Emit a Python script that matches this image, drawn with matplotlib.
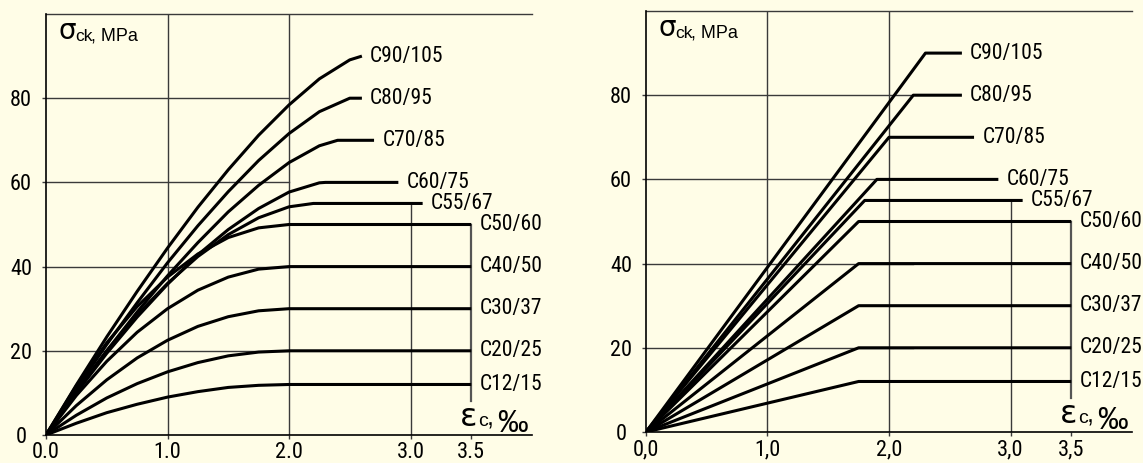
import matplotlib
matplotlib.use("Agg")
import matplotlib.pyplot as plt
from matplotlib import font_manager
from matplotlib.font_manager import FontProperties

BG = '#FFFDE7'

grades = ['C12/15', 'C20/25', 'C30/37', 'C40/50', 'C50/60',
          'C55/67', 'C60/75', 'C70/85', 'C80/95', 'C90/105']
fck = [12, 20, 30, 40, 50, 55, 60, 70, 80, 90]

# left chart: parabola-rectangle, stress read at these strains (per mille)
eps_grid = [0.0, 0.25, 0.5, 0.75, 1.0, 1.25, 1.5, 1.75, 2.0, 2.25, 2.5]
sig_c12 = [0, 2.8, 5.3, 7.3, 9.0, 10.3, 11.3, 11.8]
sig_c20 = [0, 4.7, 8.8, 12.2, 15.0, 17.2, 18.8, 19.7]
sig_c30 = [0, 7.0, 13.1, 18.3, 22.5, 25.8, 28.1, 29.5]
sig_c40 = [0, 9.4, 17.5, 24.4, 30.0, 34.4, 37.5, 39.4]
sig_c50 = [0, 11.7, 21.9, 30.5, 37.5, 43.0, 46.9, 49.2]
sig_c55 = [0, 10.5, 20.0, 28.5, 36.0, 42.4, 47.6, 51.6, 54.2]
sig_c60 = [0, 10.0, 19.4, 28.0, 35.8, 42.8, 48.8, 53.8, 57.7, 59.9]
sig_c70 = [0, 10.3, 20.0, 29.2, 37.8, 45.7, 53.0, 59.3, 64.7, 68.7]
sig_c80 = [0, 11.0, 21.5, 31.4, 40.9, 49.7, 57.8, 65.2, 71.6, 76.8]
sig_c90 = [0, 11.9, 23.3, 34.1, 44.4, 54.1, 63.0, 71.2, 78.4, 84.6, 89.1]
sig_left = [sig_c12, sig_c20, sig_c30, sig_c40, sig_c50,
            sig_c55, sig_c60, sig_c70, sig_c80, sig_c90]
eps_c2 = [2.0, 2.0, 2.0, 2.0, 2.0, 2.2, 2.3, 2.4, 2.5, 2.6]
eps_cu2 = [3.5, 3.5, 3.5, 3.5, 3.5, 3.1, 2.9, 2.7, 2.6, 2.6]

# right chart: bilinear
eps_c3 = [1.75, 1.75, 1.75, 1.75, 1.75, 1.8, 1.9, 2.0, 2.2, 2.3]
eps_cu3 = [3.5, 3.5, 3.5, 3.5, 3.5, 3.1, 2.9, 2.7, 2.6, 2.6]

xticks = [0, 1, 2, 3, 3.5]
xlabels_left = ['0.0', '1.0', '2.0', '3.0', '3.5']
xlabels_right = ['0,0', '1,0', '2,0', '3,0', '3,5']
yticks = [0, 20, 40, 60, 80]


# the original uses a narrow Arial-like face; take one if there is any
def narrow_font(size):
    have = font_manager.fontManager.ttflist
    names = {f.name for f in have}
    for n in ['Liberation Sans Narrow', 'Arial Narrow', 'Roboto Condensed',
              'Open Sans Condensed', 'Noto Sans Condensed']:
        if n in names:
            return FontProperties(family=n, size=size)
    if any(f.name == 'DejaVu Sans' and f.stretch == 'condensed' for f in have):
        return FontProperties(family='DejaVu Sans', stretch='condensed', size=size - 1)
    return FontProperties(family='Liberation Sans', size=size - 2.3)


LBL = narrow_font(15.5)
TCK = narrow_font(16)
plt.rcParams['font.family'] = ['Liberation Sans', 'DejaVu Sans']


def setup(ax, xlabels, hgrid_end):
    ax.set_facecolor(BG)
    ax.set_xlim(0, 4)
    ax.set_ylim(0, 100)
    for s in ['top', 'right']:
        ax.spines[s].set_visible(False)
    for s in ['left', 'bottom']:
        ax.spines[s].set_color('black')
        ax.spines[s].set_linewidth(1.2)
    gc = '#3a3a3a'
    ax.plot([0, 4], [100, 100], color=gc, lw=1.0, clip_on=False)
    for x in [1, 2]:
        ax.plot([x, x], [0, 100], color=gc, lw=1.0)
    ax.plot([3, 3], [0, 55], color=gc, lw=1.0)
    ax.plot([3.5, 3.5], [8, 50], color='#555555', lw=1.6)
    for y in [20, 40, 60, 80]:
        ax.plot([0, hgrid_end], [y, y], color=gc, lw=1.0)

    ax.set_xticks(xticks)
    ax.set_xticklabels(xlabels)
    ax.set_yticks(yticks)
    ax.tick_params(axis='both', length=3, width=1.0, color=gc)
    ax.tick_params(axis='x', pad=2)
    ax.tick_params(axis='y', pad=15)
    for t in ax.get_yticklabels() + ax.get_xticklabels():
        t.set_fontproperties(TCK)
    for t in ax.get_yticklabels():
        t.set_horizontalalignment('center')

    # axis titles
    tr = ax.transAxes
    ax.text(0.026, 0.9406, 'σ', transform=tr, fontsize=20, family='DejaVu Sans',
            ha='left', va='baseline')
    ax.text(0.0605, 0.936, 'ck', transform=tr, fontsize=12.5, family='Liberation Sans',
            ha='left', va='baseline')
    ax.text(0.093, 0.938, ', MPa', transform=tr, fontsize=13, family='Liberation Sans',
            ha='left', va='baseline')
    ax.text(0.851, 0.0214, 'ε', transform=tr, fontsize=23, family='DejaVu Sans',
            ha='left', va='baseline')
    ax.text(0.8895, 0.0214, 'c', transform=tr, fontsize=14, family='Liberation Sans',
            ha='left', va='baseline')
    ax.text(0.906, 0.0214, ',', transform=tr, fontsize=18, family='Liberation Sans',
            ha='left', va='baseline')
    ax.text(0.9918, 0.007, '‰', transform=tr, fontsize=22, family='Liberation Sans',
            ha='right', va='baseline')


fig = plt.figure(figsize=(11.43, 4.63), dpi=100, facecolor=BG)
ax1 = fig.add_axes([46 / 1143, 28 / 463, 486 / 1143, 421 / 463])
ax2 = fig.add_axes([646 / 1143, 31 / 463, 486 / 1143, 421 / 463])

setup(ax1, xlabels_left, 2.0)
setup(ax2, xlabels_right, 2.2)

for name, f, sig, e2, eu in zip(grades, fck, sig_left, eps_c2, eps_cu2):
    xs = eps_grid[:len(sig)] + [e2, eu]
    ys = sig + [f, f]
    ax1.plot(xs, ys, color='black', lw=2.2, solid_capstyle='butt', zorder=3)
    ax1.annotate(name, (eu, f), xytext=(6, 0), textcoords='offset points',
                 va='center', ha='left', fontproperties=LBL)

for name, f, e3, eu in zip(grades, fck, eps_c3, eps_cu3):
    ax2.plot([0, e3, eu], [0, f, f], color='black', lw=2.2,
             solid_capstyle='butt', zorder=3)
    ax2.annotate(name, (eu, f), xytext=(6, 0), textcoords='offset points',
                 va='center', ha='left', fontproperties=LBL)

fig.savefig('out.png', dpi=100, facecolor=BG)
